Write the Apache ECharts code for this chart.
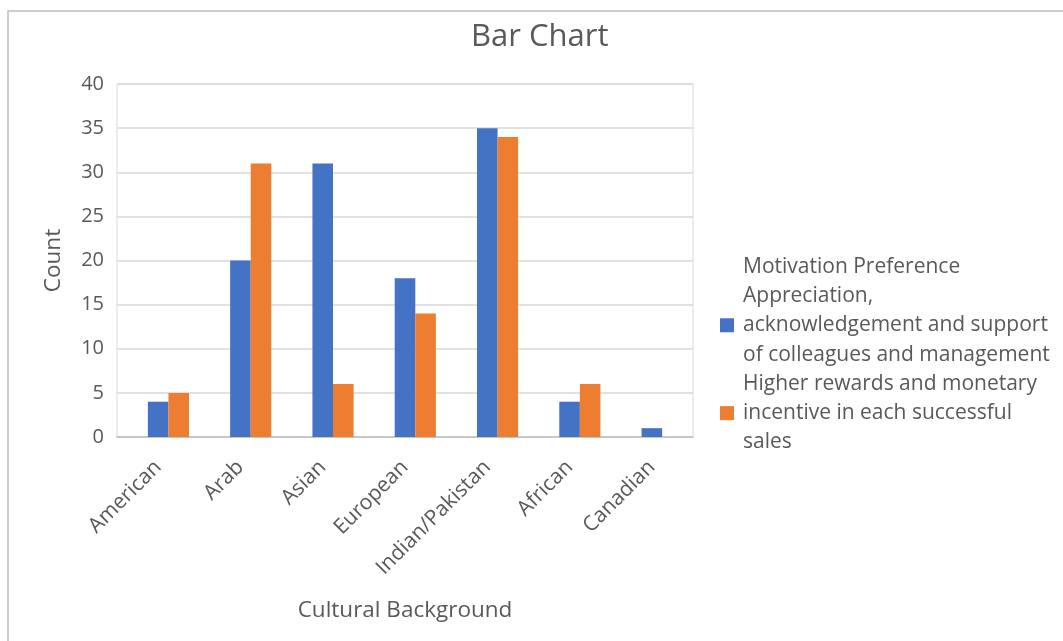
<!DOCTYPE html>
<html>
<head>
<meta charset="utf-8">
<script src="https://cdn.jsdelivr.net/npm/echarts@6/dist/echarts.min.js"></script>
<style>
html,body{margin:0;padding:0;background:#fff;}
#chart{width:1063px;height:641px;}
</style>
</head>
<body>
<div id="chart"></div>
<script>
const categories = ['American', 'Arab', 'Asian', 'European', 'Indian/Pakistan', 'African', 'Canadian'];
const seriesNames = [
  'Motivation Preference',
  'Appreciation, acknowledgement and support of colleagues and management',
  'Higher rewards and monetary incentive in each successful sales'
];
const legendLabels = [
  'Motivation Preference',
  'Appreciation,\nacknowledgement and support\nof colleagues and management',
  'Higher rewards and monetary\nincentive in each successful\nsales'
];
const motivationPreference = [null, null, null, null, null, null, null];
const appreciation = [4, 20, 31, 18, 35, 4, 1];
const higherRewards = [5, 31, 6, 14, 34, 6, 0];
const yTicks = { min: 0, max: 40, interval: 5 };

const FONT = '"Open Sans", "Noto Sans", sans-serif';
const TXT = '#595959';

const chart = echarts.init(document.getElementById('chart'), null, { renderer: 'canvas' });
const labelMap = {};
seriesNames.forEach((n, i) => { labelMap[n] = legendLabels[i]; });

chart.setOption({
  animation: false,
  backgroundColor: '#fff',
  textStyle: { fontFamily: FONT },
  title: {
    text: 'Bar Chart',
    left: 471,
    top: 22,
    padding: 0,
    textStyle: { fontFamily: FONT, fontSize: 31, fontWeight: 'normal', color: TXT }
  },
  graphic: [{
    type: 'rect',
    shape: { x: 8, y: 11, width: 1200, height: 800 },
    style: { fill: 'none', stroke: '#BDBDBD', lineWidth: 1.5 },
    silent: true,
    z: -10
  }],
  legend: {
    orient: 'vertical',
    left: 720,
    top: 252,
    padding: 0,
    itemGap: 0,
    itemWidth: 14,
    itemHeight: 14,
    icon: 'rect',
    selectedMode: false,
    data: seriesNames,
    formatter: name => labelMap[name],
    textStyle: { fontFamily: FONT, fontSize: 21, color: TXT, lineHeight: 29.3, padding: [0, 0, 0, 4] }
  },
  grid: {
    left: 117,
    right: 370,
    top: 84,
    bottom: 204,
    show: true,
    borderColor: '#D9D9D9',
    borderWidth: 1
  },
  xAxis: {
    type: 'category',
    data: categories,
    name: 'Cultural Background',
    nameLocation: 'middle',
    nameGap: 162,
    nameTextStyle: { fontFamily: FONT, fontSize: 22.5, color: TXT },
    axisLine: { lineStyle: { color: '#BFBFBF', width: 1.5 } },
    axisTick: { show: false },
    axisLabel: { rotate: 45, margin: 27, fontFamily: FONT, fontSize: 21, color: TXT, interval: 0 }
  },
  yAxis: {
    type: 'value',
    min: yTicks.min,
    max: yTicks.max,
    interval: yTicks.interval,
    name: 'Count',
    nameLocation: 'middle',
    nameGap: 52,
    nameTextStyle: { fontFamily: FONT, fontSize: 22.5, color: TXT },
    axisLine: { show: false },
    axisTick: { show: false },
    axisLabel: { margin: 13, fontFamily: FONT, fontSize: 20, color: TXT },
    splitLine: { lineStyle: { color: '#D9D9D9', width: 1.5 } }
  },
  series: [
    {
      name: seriesNames[0], type: 'bar', data: motivationPreference,
      barGap: '0%', barCategoryGap: '25%',
      itemStyle: { color: 'rgba(0,0,0,0)' }
    },
    {
      name: seriesNames[1], type: 'bar', data: appreciation,
      barGap: '0%', barCategoryGap: '25%',
      itemStyle: { color: '#4472C4' }
    },
    {
      name: seriesNames[2], type: 'bar', data: higherRewards,
      barGap: '0%', barCategoryGap: '25%',
      itemStyle: { color: '#ED7D31' }
    }
  ]
});
</script>
</body>
</html>
